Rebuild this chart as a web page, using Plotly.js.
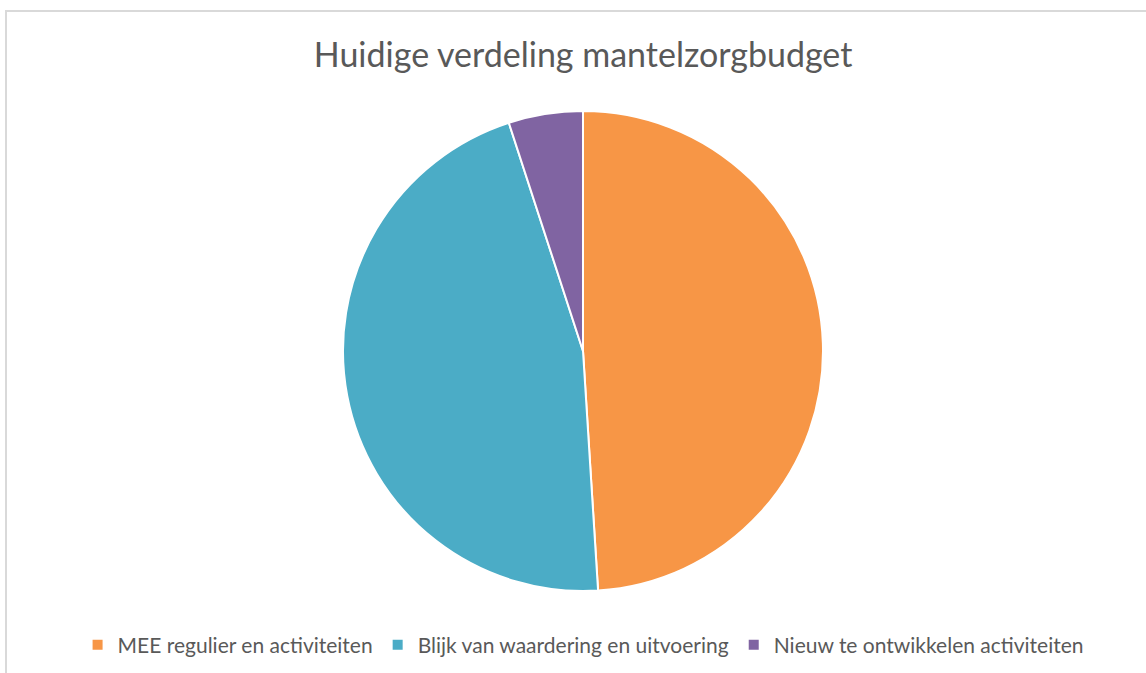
<!DOCTYPE html>
<html>
<head>
<meta charset="utf-8">
<script src="https://cdn.plot.ly/plotly-3.0.1.min.js"></script>
<style>
  html, body { margin: 0; padding: 0; background: #fff; }
  #wrap { position: relative; width: 1146px; height: 673px; overflow: hidden; }
  #frame { position: absolute; left: 5px; top: 10px; width: 1200px; height: 700px;
           border-left: 2px solid #d9d9d9; border-top: 2px solid #d9d9d9; box-sizing: border-box; }
  #chart { position: absolute; left: 0; top: 0; width: 1146px; height: 673px; }
</style>
</head>
<body>
<div id="wrap">
  <div id="frame"></div>
  <div id="chart"></div>
</div>
<script>
const categories = ["MEE regulier en activiteiten", "Blijk van waardering en uitvoering", "Nieuw te ontwikkelen activiteiten"];
const values = [49, 46, 5];
const colors = ["#F79646", "#4BACC6", "#8064A2"];

const W = 1146, H = 673;
const cx = 583, cy = 351, r = 240;

const data = [{
  type: "pie",
  labels: categories,
  values: values,
  sort: false,
  direction: "clockwise",
  rotation: 0,
  textinfo: "none",
  hoverinfo: "label+value",
  marker: { colors: colors, line: { color: "#ffffff", width: 2 } },
  domain: { x: [(cx - r) / W, (cx + r) / W], y: [(H - cy - r) / H, (H - cy + r) / H] }
}];

const layout = {
  width: W, height: H,
  margin: { l: 0, r: 0, t: 0, b: 0 },
  paper_bgcolor: "rgba(0,0,0,0)",
  plot_bgcolor: "rgba(0,0,0,0)",
  font: { family: "Lato, 'Open Sans', sans-serif", color: "#595959" },
  title: { text: "Huidige verdeling mantelzorgbudget", x: 0.5088, xanchor: "center", y: 1 - 55 / H, yanchor: "middle",
           font: { size: 34, color: "#595959", family: "Lato, 'Open Sans', sans-serif" } },
  showlegend: true,
  legend: { orientation: "h", x: 0.5088, xanchor: "center", y: 1 - 645 / H, yanchor: "middle",
            font: { size: 21, color: "#595959" }, itemwidth: 30, traceorder: "normal" }
};

Plotly.newPlot("chart", data, layout, { displayModeBar: false });
</script>
</body>
</html>
